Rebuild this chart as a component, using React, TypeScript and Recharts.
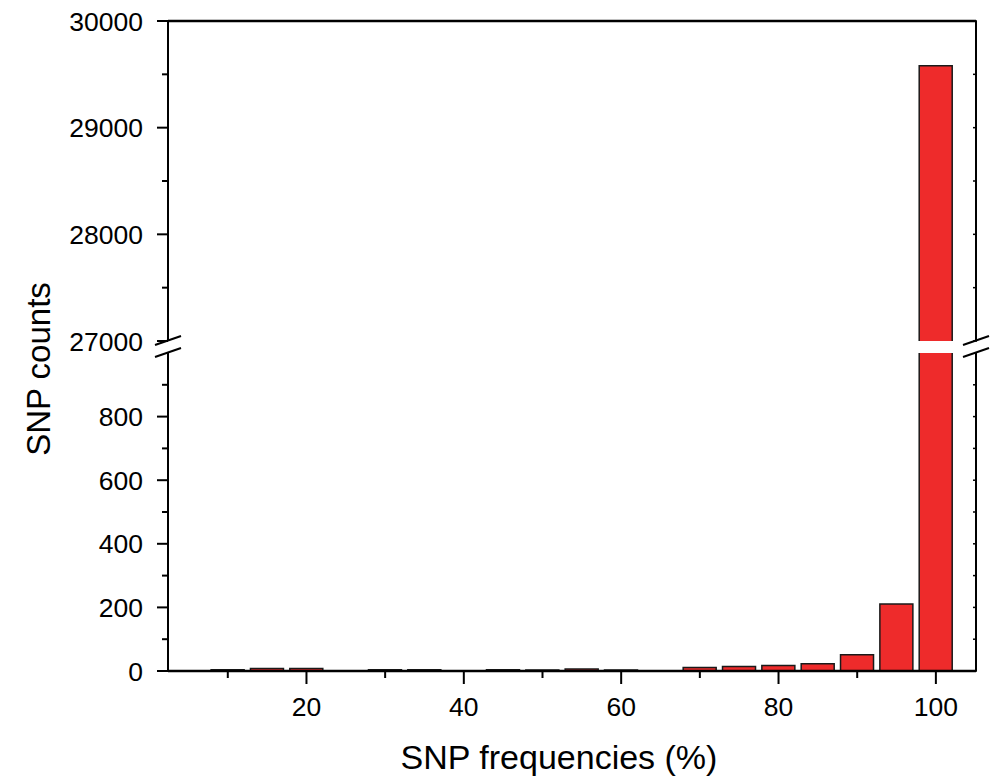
import React from 'react';
import { BarChart, Bar, XAxis, YAxis, ReferenceLine } from 'recharts';

const freqs = [10, 15, 20, 25, 30, 35, 40, 45, 50, 55, 60, 65, 70, 75, 80, 85, 90, 95, 100];
const counts = [4, 8, 8, 0, 4, 4, 0, 4, 3, 6, 3, 0, 11, 14, 17, 23, 51, 211, 29580];

const xTicks = [10, 20, 30, 40, 50, 60, 70, 80, 90, 100];
const xMajor = [20, 40, 60, 80, 100];
const lowTicks = [0, 100, 200, 300, 400, 500, 600, 700, 800, 900];
const lowMajor = [0, 200, 400, 600, 800];
const highTicks = [27000, 27500, 28000, 28500, 29000, 29500, 30000];
const highMajor = [27000, 28000, 29000, 30000];

const lowDomain = [0, 1000];
const highDomain = [27000, 30000];
const xDomain = [2.4, 105.1];

const rows = freqs.map((f, i) => ({
  freq: f,
  count: counts[i],
  top: counts[i] >= highDomain[0] ? counts[i] : null,
}));

const FONT = '"Liberation Sans", Arial, sans-serif';
const RED = '#EE2B2B';
const EDGE = '#1a1a1a';

const LeftTick = (props: any) => {
  const { x, y, payload, majors } = props;
  const major = majors.includes(payload.value);
  return (
    <g>
      <line x1={x - (major ? 11 : 6)} x2={x} y1={y} y2={y} stroke="#000" strokeWidth={2} />
      {major && (
        <text x={x - 25} y={y} dy="0.36em" textAnchor="end" fontSize={26.5} fontFamily={FONT} fill="#000">
          {payload.value}
        </text>
      )}
    </g>
  );
};

const RightTick = (props: any) => {
  const { x, y } = props;
  return <line x1={x - 3} x2={x + 1} y1={y} y2={y} stroke="#000" strokeWidth={1.5} />;
};

const BottomTick = (props: any) => {
  const { x, y, payload } = props;
  const major = xMajor.includes(payload.value);
  return (
    <g>
      <line x1={x} x2={x} y1={y} y2={y + (major ? 13 : 7)} stroke="#000" strokeWidth={2} />
      {major && (
        <text x={x} y={y + 45} textAnchor="middle" fontSize={26.5} fontFamily={FONT} fill="#000">
          {payload.value}
        </text>
      )}
    </g>
  );
};

// upper segment bar: no outline on the broken bottom edge
const OpenBar = (props: any) => {
  const { x, y, width, height } = props;
  if (!height || height <= 0) return null;
  return (
    <g>
      <rect x={x} y={y} width={width} height={height} fill={RED} />
      <path
        d={`M${x},${y + height} L${x},${y} L${x + width},${y} L${x + width},${y + height}`}
        fill="none"
        stroke={EDGE}
        strokeWidth={1.5}
      />
    </g>
  );
};

const Slashes = ({ cx }: { cx: number }) => (
  <g stroke="#000" strokeWidth={2}>
    <line x1={cx - 13} y1={345} x2={cx + 13} y2={336} />
    <line x1={cx - 13} y1={357} x2={cx + 13} y2={348} />
  </g>
);

export default function App() {
  return (
    <div style={{ position: 'absolute', left: 0, top: 0, width: 996, height: 779, background: '#fff' }}>
      <div style={{ position: 'absolute', left: 0, top: 0 }}>
        <BarChart width={996} height={779} data={rows} margin={{ top: 353, right: 0, bottom: 0, left: 0 }}>
          <XAxis
            dataKey="freq"
            type="number"
            domain={xDomain}
            allowDataOverflow
            ticks={xTicks}
            tickSize={0}
            tickMargin={0}
            tick={(p: any) => <BottomTick {...p} />}
            axisLine={{ stroke: '#000', strokeWidth: 2.5 }}
            height={108}
          />
          <YAxis
            type="number"
            domain={lowDomain}
            allowDataOverflow
            ticks={lowTicks}
            tickSize={0}
            tickMargin={0}
            tick={(p: any) => <LeftTick {...p} majors={lowMajor} />}
            axisLine={{ stroke: '#000', strokeWidth: 2 }}
            width={168}
          />
          <YAxis
            yAxisId="r"
            orientation="right"
            type="number"
            domain={lowDomain}
            allowDataOverflow
            ticks={lowTicks}
            tickSize={0}
            tickMargin={0}
            tick={(p: any) => <RightTick {...p} />}
            axisLine={{ stroke: '#000', strokeWidth: 2 }}
            width={20}
          />
          <Bar dataKey="count" barSize={33} fill={RED} stroke={EDGE} strokeWidth={1.5} isAnimationActive={false} />
        </BarChart>
      </div>
      <div style={{ position: 'absolute', left: 0, top: 0 }}>
        <BarChart width={996} height={362} data={rows} margin={{ top: 21, right: 0, bottom: 21, left: 0 }}>
          <XAxis dataKey="freq" type="number" domain={xDomain} allowDataOverflow hide />
          <YAxis
            type="number"
            domain={highDomain}
            allowDataOverflow
            ticks={highTicks}
            tickSize={0}
            tickMargin={0}
            tick={(p: any) => <LeftTick {...p} majors={highMajor} />}
            axisLine={{ stroke: '#000', strokeWidth: 2 }}
            width={168}
          />
          <YAxis
            yAxisId="r"
            orientation="right"
            type="number"
            domain={highDomain}
            allowDataOverflow
            ticks={highTicks}
            tickSize={0}
            tickMargin={0}
            tick={(p: any) => <RightTick {...p} />}
            axisLine={{ stroke: '#000', strokeWidth: 2 }}
            width={20}
          />
          <ReferenceLine y={highDomain[1]} stroke="#000" strokeWidth={2.5} />
          <Bar dataKey="top" barSize={33} shape={(p: any) => <OpenBar {...p} />} isAnimationActive={false} />
        </BarChart>
      </div>
      <svg
        width={996}
        height={779}
        style={{ position: 'absolute', left: 0, top: 0, pointerEvents: 'none' }}
      >
        <Slashes cx={168} />
        <Slashes cx={976} />
        <text
          x={38}
          y={369}
          transform="rotate(-90 38 369)"
          textAnchor="middle"
          dominantBaseline="central"
          fontSize={33}
          fontFamily={FONT}
          fill="#000"
        >
          SNP counts
        </text>
        <text x={559} y={757} textAnchor="middle" dominantBaseline="central" fontSize={34} fontFamily={FONT} fill="#000">
          SNP frequencies (%)
        </text>
      </svg>
    </div>
  );
}
